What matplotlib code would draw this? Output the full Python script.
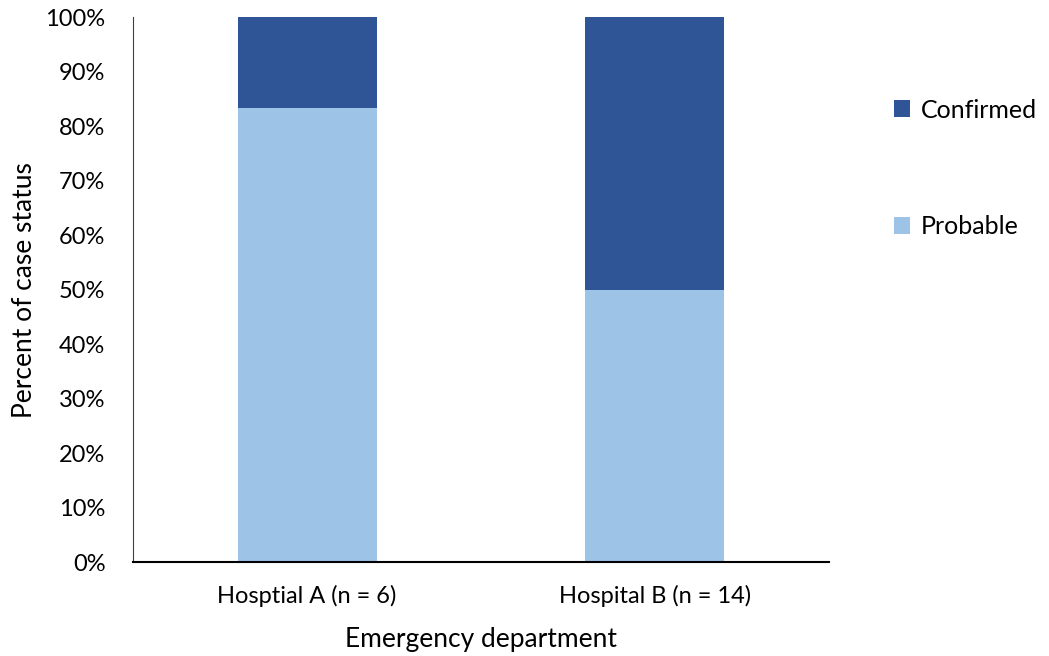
import numpy as np
import matplotlib.pyplot as plt
from matplotlib.ticker import PercentFormatter

plt.rcParams.update({
    'font.family': ['Lato', 'DejaVu Sans'],
    'font.size': 17,
    'text.color': '#000000',
})

hospitals = ["Hosptial A (n = 6)", "Hospital B (n = 14)"]
probable = [83.3, 50.0]
confirmed = [16.7, 50.0]

fig = plt.figure(figsize=(10.49, 6.56), dpi=100)
ax = fig.add_axes([0.127, 0.143, 0.663, 0.831])

x = np.arange(len(hospitals))
ax.bar(x, probable, width=0.4, color='#9DC3E6', label='Probable')
ax.bar(x, confirmed, width=0.4, bottom=probable, color='#2F5597', label='Confirmed')

ax.set_xlim(-0.5, 1.5)
ax.set_ylim(0, 100)
ax.set_yticks(np.arange(0, 101, 10))
ax.yaxis.set_major_formatter(PercentFormatter(decimals=0))
ax.set_xticks(x)
ax.set_xticklabels(hospitals)
ax.tick_params(axis='both', length=0, labelsize=17)
ax.tick_params(axis='y', pad=20)
ax.tick_params(axis='x', pad=16)

ax.spines['top'].set_visible(False)
ax.spines['right'].set_visible(False)
ax.spines['left'].set_color('#404040')
ax.spines['left'].set_linewidth(0.8)
ax.spines['bottom'].set_color('#000000')
ax.spines['bottom'].set_linewidth(1.5)

ax.set_xlabel("Emergency department", fontsize=19, labelpad=15)
ax.set_ylabel("Percent of case status", fontsize=19, labelpad=6)

handles, labels = ax.get_legend_handles_labels()
fig.legend(handles[::-1], labels[::-1], loc='upper left', bbox_to_anchor=(0.831, 0.884),
           frameon=False, fontsize=18, handlelength=0.65, handleheight=0.65,
           handletextpad=0.4, labelspacing=3.75)

fig.savefig("out.png", dpi=100)
